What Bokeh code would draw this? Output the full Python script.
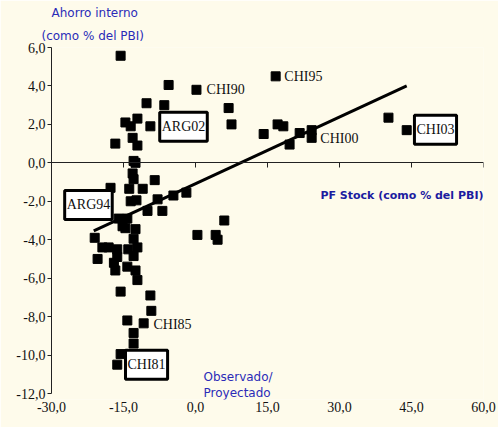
from bokeh.plotting import figure
from bokeh.models import (ColumnDataSource, Label, FixedTicker, LinearAxis,
                          CustomJSTickFormatter, Range1d, Title)
from bokeh.embed import file_html
from bokeh.resources import INLINE
from bokeh.core.properties import value

BG = "#FEFBEB"
BLUE = "#2B2BB8"
NAVY = "#1C1CA0"

# Scatter values (PF stock % PBI, ahorro interno % PBI)
x_vals = [-15.6, -5.6, 0.2, -10.2, -6.5, 6.9, 7.5, 16.7, -12.1, -14.6,
          -13.5, -9.4, -13.1, -12.1, -16.7, 14.2, 17.1, 18.3, 19.6, 21.7,
          24.2, 24.2, 40.2, 44.0,
          -12.9, -12.5, -13.1, -12.9, -8.5, -17.7, -11.0, -13.8, -13.5, -12.3,
          -7.9, -4.6, -1.9, -10.0, -6.9, -16.0, -14.2, -15.2, -12.5, -14.6,
          -21.0, -12.9, 0.4, 4.2, 4.6, 6.0, -20.4, -19.4, -18.1, -16.3,
          -14.0, -12.1, -12.9, -16.3, -17.0, -16.7, -14.2, -12.5, -12.1, -15.6,
          -9.4, -9.2, -14.2, -10.8, -12.9, -12.9, -15.6, -16.3]
y_vals = [5.57, 4.05, 3.8, 3.1, 3.0, 2.85, 2.0, 4.5, 2.3, 2.1,
          1.9, 1.9, 1.3, 0.9, 1.0, 1.5, 2.0, 1.9, 0.95, 1.55,
          1.7, 1.3, 2.35, 1.7,
          0.1, 0.0, -0.55, -0.85, -0.9, -1.3, -1.35, -1.35, -2.0, -1.95,
          -1.9, -1.7, -1.55, -2.5, -2.5, -2.9, -2.9, -3.3, -3.45, -3.4,
          -3.9, -3.95, -3.75, -3.75, -4.0, -3.0, -5.0, -4.4, -4.4, -4.5,
          -4.5, -4.4, -4.85, -4.9, -5.2, -5.6, -5.4, -5.6, -6.1, -6.7,
          -6.9, -7.7, -8.2, -8.35, -8.85, -9.4, -9.95, -10.5]

# Trend line end points
trend_x = [-21.2, 44.0]
trend_y = [-3.54, 4.0]

# Point labels
plain_names = ["CHI90", "CHI95", "CHI00", "CHI85"]
plain_x = [2.3, 18.5, 26.0, -8.75]
plain_y = [3.8, 4.48, 1.25, -8.4]
boxed_names = ["ARG02", "CHI03", "ARG94", "CHI81"]
boxed_x = [-2.5, 50.0, -22.3, -10.2]
boxed_y = [1.88, 1.72, -2.19, -10.5]

x_ticks = [-30, -15, 0, 15, 30, 45, 60]
y_ticks = [-12, -10, -8, -6, -4, -2, 0, 2, 4, 6]

p = figure(width=498, height=427, x_range=Range1d(-30, 60), y_range=Range1d(-12.312, 6.0),
           output_backend="svg", toolbar_location=None,
           x_axis_location=None, y_axis_location=None,
           min_border_left=51, min_border_right=15, min_border_top=47, min_border_bottom=28,
           background_fill_color=BG, border_fill_color=BG, outline_line_color=None)
p.xgrid.visible = False
p.ygrid.visible = False

fmt = CustomJSTickFormatter(code="return tick.toFixed(1).replace('.', ',');")

yaxis = LinearAxis(ticker=FixedTicker(ticks=y_ticks), formatter=fmt, bounds=(-12, 6),
                   major_tick_out=4, major_tick_in=0, minor_tick_line_color=None,
                   major_label_standoff=2, axis_line_color="#222222",
                   major_tick_line_color="#222222",
                   major_label_text_font="Liberation Serif",
                   major_label_text_font_size="14px", major_label_text_color="#111111")
p.add_layout(yaxis, "left")

xaxis_bottom = LinearAxis(ticker=FixedTicker(ticks=x_ticks), formatter=fmt,
                          axis_line_color=None, major_tick_line_color=None,
                          minor_tick_line_color=None, major_tick_out=0, major_tick_in=0,
                          major_label_standoff=2,
                          major_label_text_font="Liberation Serif",
                          major_label_text_font_size="14px", major_label_text_color="#111111")
p.add_layout(xaxis_bottom, "below")

xaxis_zero = LinearAxis(ticker=FixedTicker(ticks=x_ticks), fixed_location=0,
                        major_tick_in=5, major_tick_out=0, minor_tick_line_color=None,
                        major_label_standoff=0,
                        axis_line_color="#222222", major_tick_line_color="#222222",
                        major_label_text_font_size="0px", major_label_text_color=None)
p.add_layout(xaxis_zero, "above")

# y-axis title, two lines, in the top panel
p.add_layout(Title(text="(como % del PBI)", align="left", offset=-10, standoff=10,
                   text_font="DejaVu Sans", text_font_size="12px",
                   text_font_style="normal", text_color=BLUE), "above")
p.add_layout(Title(text="Ahorro interno", align="left", offset=0, standoff=3,
                   text_font="DejaVu Sans", text_font_size="12px",
                   text_font_style="normal", text_color=BLUE), "above")

p.line(trend_x, trend_y, line_width=3, line_color="black")
p.scatter(x_vals, y_vals, marker="square", size=9, color="black")

plain_src = ColumnDataSource(dict(x=plain_x, y=plain_y, t=plain_names))
p.text(x="x", y="y", text="t", source=plain_src, text_font=value("Liberation Serif"),
       text_font_size="14px", text_align="left", text_baseline="middle", text_color="#111111")

boxed_src = ColumnDataSource(dict(x=boxed_x, y=boxed_y, t=boxed_names))
p.text(x="x", y="y", text="t", source=boxed_src, text_font=value("Liberation Serif"),
       text_font_size="14px", text_align="center", text_baseline="middle", text_color="#111111",
       background_fill_color="white", border_line_color="black", border_line_width=3,
       padding=(2, 7))

for txt, lx, ly, align, bold, col in [
        ("PF Stock (como % del PBI)", 60, -1.72, "right", True, NAVY),
        ("Observado/", 1.67, -11.13, "left", False, BLUE),
        ("Proyectado", 1.67, -11.97, "left", False, BLUE)]:
    p.add_layout(Label(x=lx, y=ly, text=txt, text_align=align, text_baseline="middle",
                       text_font="DejaVu Sans",
                       text_font_size="11px" if bold else "12px",
                       text_font_style="bold" if bold else "normal",
                       text_color=col))

open("out.html", "w").write(file_html(p, INLINE))
